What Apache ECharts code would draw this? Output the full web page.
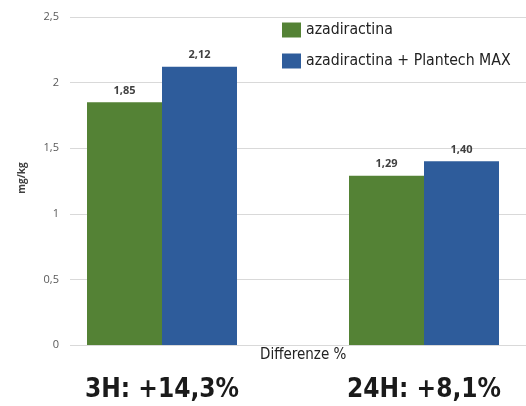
<!DOCTYPE html>
<html><head><meta charset="utf-8">
<script src="https://cdn.jsdelivr.net/npm/echarts@6/dist/echarts.min.js"></script>
<style>html,body{margin:0;padding:0;background:#fff}#c{width:526px;height:406px}</style>
</head><body><div id="c"></div>
<script>
const categories = ['3H: +14,3%', '24H: +8,1%'];
const seriesNames = ['azadiractina', 'azadiractina + Plantech MAX'];
const azadiractina = [1.85, 1.29];
const plantech = [2.12, 1.40];
const yTicks = [0, 0.5, 1, 1.5, 2, 2.5];

const NARROW = '"DejaVu Sans Condensed", "Open Sans", sans-serif';
const chart = echarts.init(document.getElementById('c'), null, {renderer: 'canvas'});
const fmt = v => String(v).replace('.', ',');
chart.setOption({
  animation: false,
  backgroundColor: '#fff',
  legend: {
    orient: 'vertical', left: 277, top: 17, itemWidth: 19, itemHeight: 15, itemGap: 15,
    icon: 'rect',
    textStyle: {fontFamily: NARROW, fontSize: 15.7, color: '#222'},
    data: seriesNames
  },
  grid: [
    {left: 70, right: 0, top: 17, bottom: 61},
    {left: 31, width: 524, top: 17, bottom: 61, outerBoundsMode: 'none', containLabel: false}
  ],
  xAxis: [
    {gridIndex: 0, type: 'category', data: categories, show: false},
    {gridIndex: 1, type: 'category', data: categories,
     axisLine: {show: false}, axisTick: {show: false},
     axisLabel: {margin: 32, fontFamily: NARROW, fontWeight: 'bold', fontSize: 26, color: '#1a1a1a'}}
  ],
  yAxis: [
    {gridIndex: 0, type: 'value', min: 0, max: 2.5, interval: 0.5,
     axisLine: {show: false}, axisTick: {show: false},
     splitLine: {lineStyle: {color: '#d9d9d9', width: 1}},
     axisLabel: {margin: 11, fontFamily: '"Open Sans", sans-serif', fontSize: 11, color: '#595959',
       formatter: v => yTicks.includes(v) ? fmt(v) : ''},
     name: 'mg/kg', nameLocation: 'middle', nameGap: 43, nameRotate: 90,
     nameTextStyle: {fontFamily: '"Open Sans", sans-serif', fontWeight: 'bold', fontSize: 10, color: '#404040', padding: [0, 0, 0, 6]}
    },
    {gridIndex: 1, type: 'value', min: 0, max: 2.5, interval: 0.5, show: false, splitLine: {show: false}}
  ],
  graphic: [{
    type: 'text', left: 260, top: 348,
    style: {text: 'Differenze %', fontFamily: NARROW, fontSize: 15, fill: '#222'}
  }],
  series: [
    {name: seriesNames[0], type: 'bar', xAxisIndex: 1, yAxisIndex: 1, data: azadiractina,
     barWidth: 75, barGap: '0%', itemStyle: {color: '#548235'},
     label: {show: true, position: 'top', distance: 6, formatter: p => p.value.toFixed(2).replace('.', ','),
       fontFamily: '"Open Sans", sans-serif', fontWeight: 'bold', fontSize: 11, color: '#404040'}},
    {name: seriesNames[1], type: 'bar', xAxisIndex: 1, yAxisIndex: 1, data: plantech,
     barWidth: 75, barGap: '0%', itemStyle: {color: '#2E5C9B'},
     label: {show: true, position: 'top', distance: 6, formatter: p => p.value.toFixed(2).replace('.', ','),
       fontFamily: '"Open Sans", sans-serif', fontWeight: 'bold', fontSize: 11, color: '#404040'}}
  ]
});
</script></body></html>
